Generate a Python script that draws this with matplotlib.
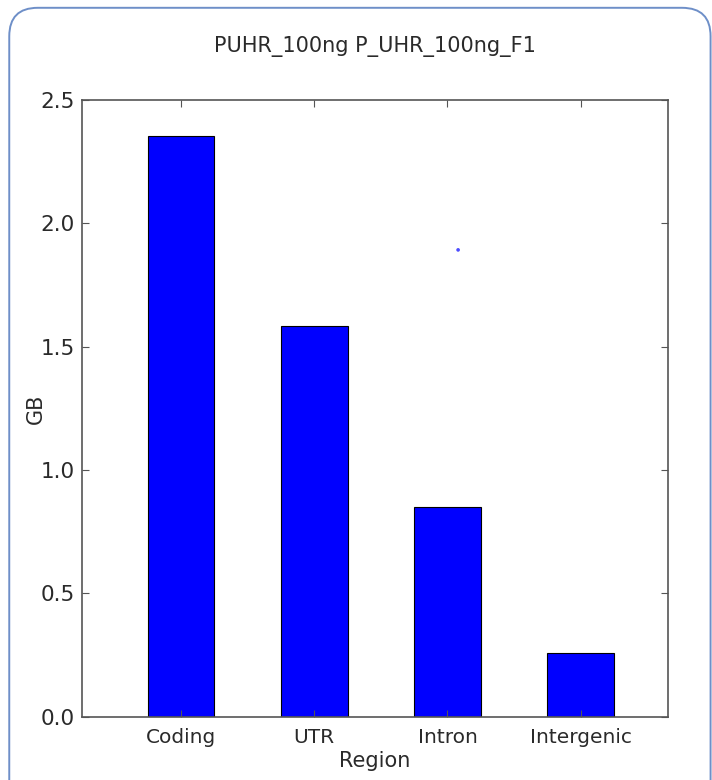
import matplotlib

matplotlib.use("Agg")
import matplotlib.pyplot as plt
from matplotlib.patches import FancyBboxPatch

# data
regions = ["Coding", "UTR", "Intron", "Intergenic"]
gb = [2.354, 1.584, 0.851, 0.260]
stray_x = [2.08]
stray_y = [1.892]
y_ticks = [0.0, 0.5, 1.0, 1.5, 2.0, 2.5]

FRAME = "#6e8fc8"
AXIS = "#555555"
TXT = "#2a2a2a"
FS = 15

fig = plt.figure(figsize=(7.12, 7.8), dpi=100, facecolor="white")

# rounded outer frame
frame = FancyBboxPatch((0.013, -0.05), 0.985, 1.04,
                       boxstyle="round,pad=0,rounding_size=0.04",
                       transform=fig.transFigure, facecolor="none",
                       edgecolor=FRAME, linewidth=1.4, mutation_aspect=712 / 780)
fig.patches.append(frame)

ax = fig.add_axes([0.115, 0.081, 0.823, 0.791])
pos = list(range(len(regions)))
ax.bar(pos, gb, width=0.5, color="#0000ff", edgecolor="black", linewidth=0.8)
ax.scatter(stray_x, stray_y, s=7, color="#0000ff", alpha=0.7, edgecolors="none")

ax.set_xlim(-0.745, 3.655)
ax.set_ylim(0, 2.5)
ax.set_xticks(pos)
ax.set_xticklabels(regions, fontsize=FS - 0.5, color=TXT)
ax.set_yticks(y_ticks)
ax.set_yticklabels([f"{t:.1f}" for t in y_ticks], fontsize=FS + 0.5, color=TXT)
ax.tick_params(direction="in", top=True, right=True, length=5, color=AXIS, pad=5)
ax.tick_params(axis="x", pad=8)
for s in ax.spines.values():
    s.set_color(AXIS)
    s.set_linewidth(1.2)

ax.set_xlabel("Region", fontsize=FS, color=TXT, labelpad=3)
ax.set_ylabel("GB", fontsize=FS, color=TXT, labelpad=-4)
fig.text(0.526, 0.941, "PUHR_100ng P_UHR_100ng_F1", ha="center", va="center",
         fontsize=FS, color=TXT)

fig.savefig("out.png", dpi=100, facecolor="white")
